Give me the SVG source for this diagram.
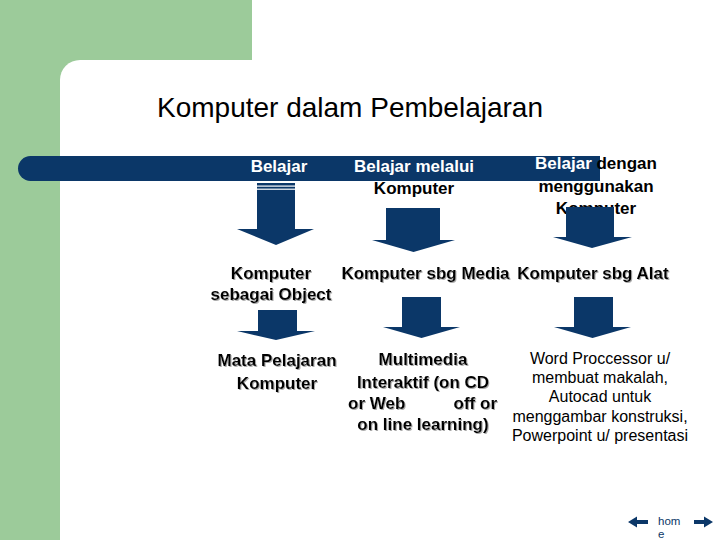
<svg xmlns="http://www.w3.org/2000/svg" width="720" height="540" viewBox="0 0 720 540">
<style>
.b{font-family:"Liberation Sans",Arial,sans-serif;font-weight:bold;font-size:17px;fill:#000;text-anchor:middle}
.r{font-family:"Liberation Sans",Arial,sans-serif;font-size:16px;fill:#000;text-anchor:middle}
.w{fill:#fff}
.arr{fill:#0b3768}
.nav{font-family:"Liberation Sans",Arial,sans-serif;font-size:11.5px;fill:#0b3768}
</style>
<defs>
<filter id="sh" x="-10%" y="-10%" width="120%" height="140%">
<feDropShadow dx="1" dy="1" stdDeviation="0.6" flood-color="#888" flood-opacity="0.7"/>
</filter>
</defs>
<g id="background">
<rect x="0" y="0" width="252" height="540" fill="#9ccb9a"/>
<rect x="60" y="60" width="700" height="520" rx="20" fill="#fff"/>
</g>
<g id="title">
<text x="157" y="117" style="font-family:'Liberation Sans',Arial,sans-serif;font-size:28px;fill:#000">Komputer dalam Pembelajaran</text>
</g>
<g id="bar">
<path class="arr" d="M30.5,156 H600 V181 H30.5 A12.5,12.5 0 0 1 30.5,156 Z"/>
</g>
<g id="node-belajar-komputer">
<text class="b w" x="279" y="172">Belajar</text>
</g>
<g id="node-belajar-melalui">
<text class="b" x="414" y="172"><tspan class="w">Belajar melalui</tspan></text>
<text class="b" x="414" y="194">Komputer</text>
</g>
<g id="node-belajar-dengan">
<text class="b" x="596" y="169"><tspan class="w">Belajar</tspan> dengan</text>
<text class="b" x="596" y="192">menggunakan</text>
<text class="b" x="596" y="214">Komputer</text>
</g>
<g id="connectors">
<polygon class="arr" points="257,183 295,183 295,229 314,229 276,245 237,229 257,229"/>
<rect x="257" y="185.5" width="38" height="1.2" fill="#fff"/>
<rect x="257" y="188.6" width="38" height="1.2" fill="#fff"/>
<polygon class="arr" points="386,208 440,208 440,240 455,240 413.5,252 372,240 386,240"/>
<polygon class="arr" points="566,207 614,207 614,237 632,237 592,248 553,237 566,237"/>
<polygon class="arr" points="258,310 297,310 297,331 315,331 276,340 237,331 258,331"/>
<polygon class="arr" points="402,297 441,297 441,327 460,327 421.5,338 383,327 402,327"/>
<polygon class="arr" points="574,297 613,297 613,327 631,327 592.5,338 554,327 574,327"/>
</g>
<g id="node-object" filter="url(#sh)">
<text class="b" x="271" y="279">Komputer</text>
<text class="b" x="271" y="300">sebagai Object</text>
</g>
<g id="node-media" filter="url(#sh)">
<text class="b" x="425.5" y="279">Komputer sbg Media</text>
</g>
<g id="node-alat" filter="url(#sh)">
<text class="b" x="593" y="279">Komputer sbg Alat</text>
</g>
<g id="node-mata-pelajaran" filter="url(#sh)">
<text class="b" x="277" y="366">Mata Pelajaran</text>
<text class="b" x="277" y="389">Komputer</text>
</g>
<g id="node-multimedia" filter="url(#sh)">
<text class="b" x="423" y="365">Multimedia</text>
<text class="b" x="423" y="388">Interaktif (on CD</text>
<text class="b" x="348" y="409" style="text-anchor:start">or Web</text>
<text class="b" x="497" y="409" style="text-anchor:end">off or</text>
<text class="b" x="423" y="430">on line learning)</text>
</g>
<g id="node-aplikasi">
<text class="r" x="600" y="364">Word Proccessor u/</text>
<text class="r" x="600" y="383">membuat makalah,</text>
<text class="r" x="600" y="402">Autocad untuk</text>
<text class="r" x="600" y="422">menggambar konstruksi,</text>
<text class="r" x="600" y="441">Powerpoint u/ presentasi</text>
</g>
<g id="nav">
<polygon class="arr" points="628,522 637,516.5 637,520 648,520 648,524 637,524 637,527.5"/>
<polygon class="arr" points="713,522 704,516.5 704,520 694,520 694,524 704,524 704,527.5"/>
<text class="nav" x="658" y="525">hom</text>
<text class="nav" x="658" y="538">e</text>
</g>
</svg>
